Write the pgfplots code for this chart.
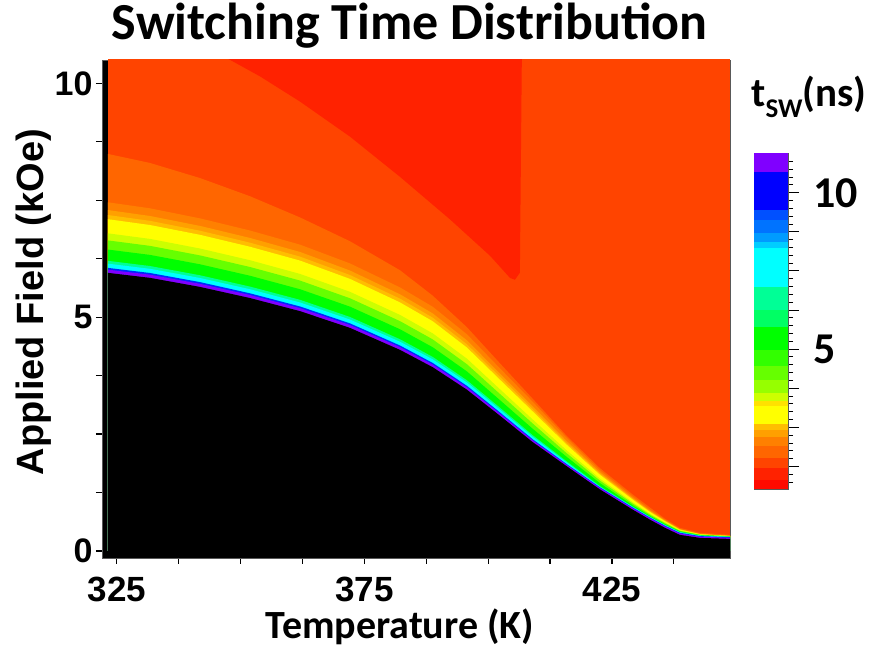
\documentclass[border=0pt]{standalone}
\usepackage{pgfplots}
\pgfplotsset{compat=1.18}
\usepackage{pgfplotstable}
\usepackage{fontspec}
\setmainfont{Carlito}
\newfontfamily\arialfont{Liberation Sans}

% level colours, from the fastest switching (red) to the slowest (violet)
\definecolor{cRed}{RGB}{255,10,0}
\definecolor{cDark}{RGB}{255,34,0}
\definecolor{cBase}{RGB}{255,68,0}
\definecolor{cOA}{RGB}{255,102,0}
\definecolor{cOB}{RGB}{255,128,0}
\definecolor{cOC}{RGB}{255,160,0}
\definecolor{cOD}{RGB}{255,190,0}
\definecolor{cYel}{RGB}{255,255,0}
\definecolor{cYG}{RGB}{204,255,0}
\definecolor{cLG}{RGB}{102,255,0}
\definecolor{cGrn}{RGB}{0,255,0}
\definecolor{cSpr}{RGB}{0,255,150}
\definecolor{cCyn}{RGB}{0,255,255}
\definecolor{cBlu}{RGB}{0,40,255}
\definecolor{cVio}{RGB}{128,0,255}

% upper edge (kOe) of each filled level versus temperature (K);
% bk is the edge of the non-switching (black) region
\pgfplotstableread{
T      o4    o3    o2    o1    yl    cy    lg    gr    sg    cn    bl    pu    bk
323.2  8.491 7.457 7.291 7.185 7.095 6.793 6.642 6.446 6.205 6.144 6.054 6.016 5.948
331.7  8.298 7.328 7.164 7.060 6.971 6.674 6.525 6.332 6.094 6.034 5.945 5.908 5.841
341.8  7.975 7.113 6.952 6.849 6.761 6.468 6.321 6.131 5.896 5.838 5.750 5.713 5.647
351.9  7.586 6.853 6.694 6.593 6.506 6.218 6.073 5.886 5.654 5.597 5.510 5.474 5.409
362.0  7.133 6.551 6.395 6.295 6.210 5.925 5.783 5.598 5.371 5.314 5.229 5.193 5.129
372.1  6.623 6.149 5.997 5.901 5.818 5.542 5.404 5.225 5.004 4.949 4.867 4.832 4.770
382.2  6.003 5.636 5.489 5.396 5.315 5.048 4.915 4.741 4.527 4.474 4.394 4.360 4.300
388.8  5.460 5.223 5.081 4.990 4.913 4.654 4.525 4.357 4.150 4.098 4.021 3.988 3.930
395.7  4.786 4.635 4.505 4.422 4.351 4.114 3.995 3.841 3.651 3.604 3.533 3.503 3.450
402.4  4.011 3.903 3.792 3.721 3.660 3.457 3.356 3.224 3.062 3.022 2.961 2.936 2.890
409.0  3.255 3.190 3.095 3.035 2.983 2.811 2.725 2.612 2.475 2.440 2.388 2.367 2.328
415.9  2.457 2.413 2.347 2.304 2.268 2.148 2.087 2.009 1.913 1.888 1.855 1.840 1.810
422.6  1.768 1.724 1.679 1.650 1.626 1.544 1.503 1.450 1.385 1.370 1.360 1.345 1.315
429.2  1.207 1.164 1.133 1.114 1.097 1.041 1.013 0.976 0.949 0.939 0.929 0.914 0.884
432.7  0.927 0.884 0.860 0.845 0.832 0.795 0.775 0.750 0.733 0.723 0.713 0.698 0.668
435.7  0.690 0.668 0.655 0.645 0.635 0.611 0.596 0.576 0.561 0.551 0.541 0.526 0.496
438.7  0.496 0.474 0.466 0.460 0.455 0.442 0.432 0.420 0.408 0.400 0.390 0.375 0.345
442.8  0.388 0.366 0.363 0.360 0.357 0.351 0.346 0.340 0.332 0.326 0.318 0.305 0.280
448.84 0.345 0.324 0.323 0.322 0.320 0.317 0.314 0.310 0.304 0.300 0.294 0.282 0.259
}\bands

\begin{document}
\begin{tikzpicture}
\useasboundingbox (0,0) rectangle (877bp,655bp);

% ---- main map ----
\begin{axis}[
  at={(102bp,97bp)}, anchor=south west,
  scale only axis, width=628bp, height=498bp,
  xmin=322, xmax=448.84, ymin=-0.15, ymax=10.5,
  no markers,
  axis background/.style={fill=black},
  axis line style={draw=black!65, line width=0.8pt},
  tick align=outside, tick pos=left,
  xtick={325,375,425},
  minor xtick={337.5,350,362.5,387.5,400,412.5,437.5},
  ytick={0,5,10},
  minor ytick={1.25,2.5,3.75,6.25,7.5,8.75},
  major tick length=6bp, minor tick length=6bp,
  every tick/.style={black, line width=1.2pt},
  /pgf/number format/assume math mode=true,
  ticklabel style={font=\arialfont\bfseries\fontsize{34bp}{34bp}\selectfont},
  xticklabel style={font=\arialfont\bfseries\fontsize{35bp}{35bp}\selectfont, yshift=-10bp},
  title={Switching Time Distribution},
  title style={font=\bfseries\fontsize{52bp}{52bp}\selectfont,
    at={(axis description cs:0.490,1.030)}, anchor=base},
  xlabel={Temperature (K)},
  xlabel style={font=\bfseries\fontsize{40bp}{40bp}\selectfont,
    at={(axis description cs:0.4745,-0.161)}, anchor=base},
  ylabel={Applied Field (kOe)},
  ylabel style={font=\arialfont\bfseries\fontsize{38bp}{38bp}\selectfont,
    at={(axis description cs:-0.0924,0.514)}, anchor=base},
]
\addplot[fill=cBase, draw=none] coordinates {(323.2,10.6) (448.84,10.6)} \closedcycle;
\addplot[fill=cDark, draw=none] coordinates {
  (346.2,10.6) (353.9,10.15) (362.0,9.61) (372.1,8.86) (382.2,8.00)
  (392.3,7.09) (400.4,6.31) (404.4,5.84) (405.4,5.80) (406.4,5.95) (406.8,10.6)};
\addplot[fill=cOA,  draw=none] table[y=o4]{\bands} \closedcycle;
\addplot[fill=cOB,  draw=none] table[y=o3]{\bands} \closedcycle;
\addplot[fill=cOC,  draw=none] table[y=o2]{\bands} \closedcycle;
\addplot[fill=cOD,  draw=none] table[y=o1]{\bands} \closedcycle;
\addplot[fill=cYel, draw=none] table[y=yl]{\bands} \closedcycle;
\addplot[fill=cYG,  draw=none] table[y=cy]{\bands} \closedcycle;
\addplot[fill=cLG,  draw=none] table[y=lg]{\bands} \closedcycle;
\addplot[fill=cGrn, draw=none] table[y=gr]{\bands} \closedcycle;
\addplot[fill=cSpr, draw=none] table[y=sg]{\bands} \closedcycle;
\addplot[fill=cCyn, draw=none] table[y=cn]{\bands} \closedcycle;
\addplot[fill=cBlu, draw=none] table[y=bl]{\bands} \closedcycle;
\addplot[fill=cVio, draw=none] table[y=pu]{\bands} \closedcycle;
\addplot[fill=black, draw=none] table[y=bk]{\bands} \closedcycle;
\end{axis}

% ---- colour scale ----
\begin{axis}[
  at={(754bp,166bp)}, anchor=south west,
  scale only axis, width=34bp, height=336bp,
  xmin=0, xmax=1, ymin=0.53, ymax=11.27,
  no markers,
  axis line style={draw=black!65, line width=0.8pt},
  xtick=\empty,
  ytick={1.25,2.5,3.75,5,6.25,7.5,8.75,10},
  yticklabels={,,,5,,,,10},
  minor ytick={0.75,1,1.5,1.75,2,2.25,2.75,3,3.25,3.5,4,4.25,4.5,4.75,5.25,5.5,5.75,6,6.5,6.75,7,7.25,7.75,8,8.25,8.5,9,9.25,9.5,9.75,10.25,10.5,10.75,11},
  tick align=outside, ytick pos=right, yticklabel pos=right,
  major tick length=11bp, minor tick length=5bp,
  every tick/.style={black, line width=1pt},
  /pgf/number format/assume math mode=true,
  yticklabel style={font=\bfseries\fontsize{44bp}{44bp}\selectfont, xshift=11bp},
]
\addplot[fill=cVio, draw=none] coordinates {(0,10.67)(1,10.67)(1,11.27)(0,11.27)};
\addplot[fill={rgb,255:red,0;green,0;blue,255}, draw=none] coordinates {(0,9.45)(1,9.45)(1,10.67)(0,10.67)};
\addplot[fill={rgb,255:red,0;green,80;blue,255}, draw=none] coordinates {(0,9.13)(1,9.13)(1,9.45)(0,9.45)};
\addplot[fill={rgb,255:red,0;green,115;blue,255}, draw=none] coordinates {(0,8.70)(1,8.70)(1,9.13)(0,9.13)};
\addplot[fill={rgb,255:red,0;green,155;blue,255}, draw=none] coordinates {(0,8.44)(1,8.44)(1,8.70)(0,8.70)};
\addplot[fill={rgb,255:red,0;green,205;blue,255}, draw=none] coordinates {(0,8.22)(1,8.22)(1,8.44)(0,8.44)};
\addplot[fill=cCyn, draw=none] coordinates {(0,7.00)(1,7.00)(1,8.22)(0,8.22)};
\addplot[fill=cSpr, draw=none] coordinates {(0,6.26)(1,6.26)(1,7.00)(0,7.00)};
\addplot[fill={rgb,255:red,0;green,255;blue,100}, draw=none] coordinates {(0,5.72)(1,5.72)(1,6.26)(0,6.26)};
\addplot[fill=cGrn, draw=none] coordinates {(0,4.98)(1,4.98)(1,5.72)(0,5.72)};
\addplot[fill={rgb,255:red,50;green,255;blue,0}, draw=none] coordinates {(0,4.45)(1,4.45)(1,4.98)(0,4.98)};
\addplot[fill=cLG, draw=none] coordinates {(0,4.00)(1,4.00)(1,4.45)(0,4.45)};
\addplot[fill={rgb,255:red,150;green,255;blue,0}, draw=none] coordinates {(0,3.60)(1,3.60)(1,4.00)(0,4.00)};
\addplot[fill=cYG, draw=none] coordinates {(0,3.33)(1,3.33)(1,3.60)(0,3.60)};
\addplot[fill={rgb,255:red,255;green,225;blue,0}, draw=none] coordinates {(0,3.17)(1,3.17)(1,3.33)(0,3.33)};
\addplot[fill=cYel, draw=none] coordinates {(0,2.60)(1,2.60)(1,3.17)(0,3.17)};
\addplot[fill=cOD, draw=none] coordinates {(0,2.43)(1,2.43)(1,2.60)(0,2.60)};
\addplot[fill=cOC, draw=none] coordinates {(0,2.20)(1,2.20)(1,2.43)(0,2.43)};
\addplot[fill=cOB, draw=none] coordinates {(0,1.90)(1,1.90)(1,2.20)(0,2.20)};
\addplot[fill=cOA, draw=none] coordinates {(0,1.52)(1,1.52)(1,1.90)(0,1.90)};
\addplot[fill=cBase, draw=none] coordinates {(0,1.20)(1,1.20)(1,1.52)(0,1.52)};
\addplot[fill=cDark, draw=none] coordinates {(0,0.83)(1,0.83)(1,1.20)(0,1.20)};
\addplot[fill=cRed, draw=none] coordinates {(0,0.53)(1,0.53)(1,0.83)(0,0.83)};
\end{axis}

\node[anchor=base, font=\bfseries\fontsize{41bp}{41bp}\selectfont] at (809bp,548bp)
  {t\raisebox{-11bp}{\fontsize{27bp}{27bp}\selectfont SW}(ns)};
\end{tikzpicture}
\end{document}
